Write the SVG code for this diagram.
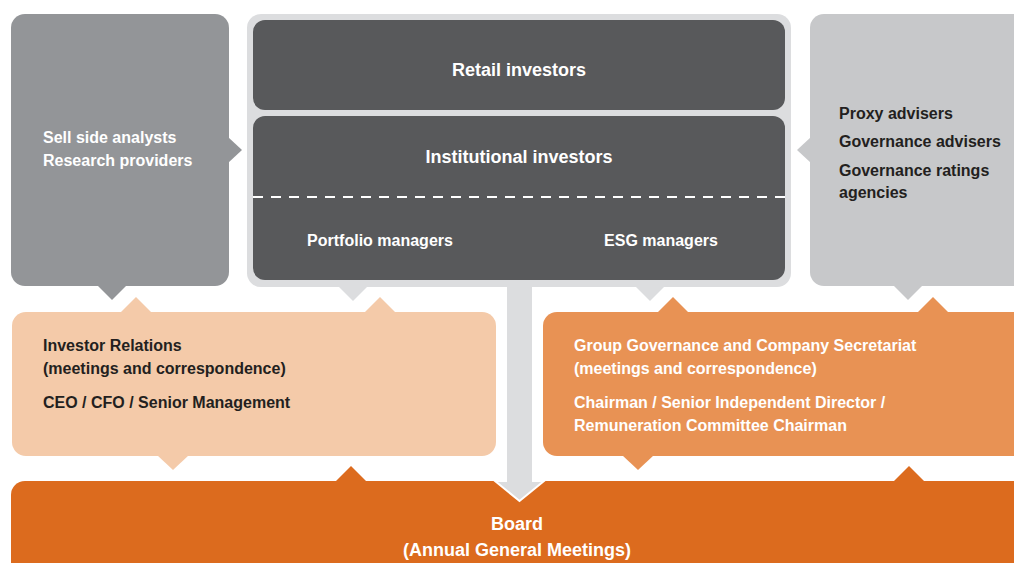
<svg xmlns="http://www.w3.org/2000/svg" width="1014" height="563" viewBox="0 0 1014 563">
<style>
text{font-family:"Liberation Sans",Arial,sans-serif;font-weight:bold;}
.w{fill:#ffffff;}
.d{fill:#231f20;}
.t16{font-size:16px;}
.t18{font-size:18px;}
.mid{text-anchor:middle;}
.g1{fill:#939598;}
.g2{fill:#c7c8ca;}
.fr{fill:#dcdddf;}
.dk{fill:#58595b;}
.pe{fill:#f4caa9;}
.or{fill:#e89254;}
.bd{fill:#dc6b1e;}
</style>
<rect width="1014" height="563" fill="#ffffff"/>
<g id="sell-side">
<rect class="g1" x="11" y="14" width="218" height="272" rx="14"/>
<polygon class="g1" points="228,137 242,150 228,163"/>
<polygon class="g1" points="97,285 127,285 112,300"/>
<text class="w t16" x="43" y="143">Sell side analysts</text>
<text class="w t16" x="43" y="166">Research providers</text>
</g>
<g id="investors">
<rect class="fr" x="247" y="14" width="544" height="273" rx="14"/>
<polygon class="fr" points="338,286 368,286 353,301"/>
<polygon class="fr" points="635,286 665,286 650,301"/>
</g>
<g id="retail">
<rect class="dk" x="253" y="20" width="532" height="90" rx="12"/>
<text class="w t18 mid" x="519" y="76">Retail investors</text>
</g>
<g id="institutional">
<rect class="dk" x="253" y="116" width="532" height="164" rx="12"/>
<line x1="253" y1="197" x2="785" y2="197" stroke="#ffffff" stroke-width="2" stroke-dasharray="10 8"/>
<text class="w t18 mid" x="519" y="163">Institutional investors</text>
<text class="w t16 mid" x="380" y="246">Portfolio managers</text>
<text class="w t16 mid" x="661" y="246">ESG managers</text>
</g>
<g id="advisers">
<rect class="g2" x="810" y="14" width="230" height="272" rx="14"/>
<polygon class="g2" points="811,137 797,150 811,163"/>
<polygon class="g2" points="893,285 923,285 908,300"/>
<text class="d t16" x="839" y="119">Proxy advisers</text>
<text class="d t16" x="839" y="147">Governance advisers</text>
<text class="d t16" x="839" y="176">Governance ratings</text>
<text class="d t16" x="839" y="198">agencies</text>
</g>
<g id="investor-relations">
<rect class="pe" x="12" y="312" width="484" height="144" rx="14"/>
<polygon class="pe" points="120,313 136,297 152,313"/>
<polygon class="pe" points="364,313 380,297 396,313"/>
<polygon class="pe" points="157,455 173,470 189,455"/>
<text class="d t16" x="43" y="351">Investor Relations</text>
<text class="d t16" x="43" y="374">(meetings and correspondence)</text>
<text class="d t16" x="43" y="408">CEO / CFO / Senior Management</text>
</g>
<g id="governance">
<rect class="or" x="543" y="312" width="500" height="144" rx="14"/>
<polygon class="or" points="657,313 673,297 689,313"/>
<polygon class="or" points="917,313 933,297 949,313"/>
<polygon class="or" points="622,455 638,470 654,455"/>
<text class="w t16" x="574" y="351">Group Governance and Company Secretariat</text>
<text class="w t16" x="574" y="374">(meetings and correspondence)</text>
<text class="w t16" x="574" y="408">Chairman / Senior Independent Director /</text>
<text class="w t16" x="574" y="431">Remuneration Committee Chairman</text>
</g>
<g id="board">
<rect class="bd" x="11" y="481" width="1040" height="100" rx="14"/>
<polygon class="bd" points="335,482 351,466 367,482"/>
<polygon class="bd" points="893,482 909,466 925,482"/>
<text class="w t18 mid" x="517" y="530">Board</text>
<text class="w t18 mid" x="517" y="556">(Annual General Meetings)</text>
</g>
<g id="connectors">
<polygon class="fr" points="495,481 544,481 519.5,501" stroke="#ffffff" stroke-width="2"/>
<rect class="fr" x="507" y="286" width="25" height="197"/>
</g>
</svg>
